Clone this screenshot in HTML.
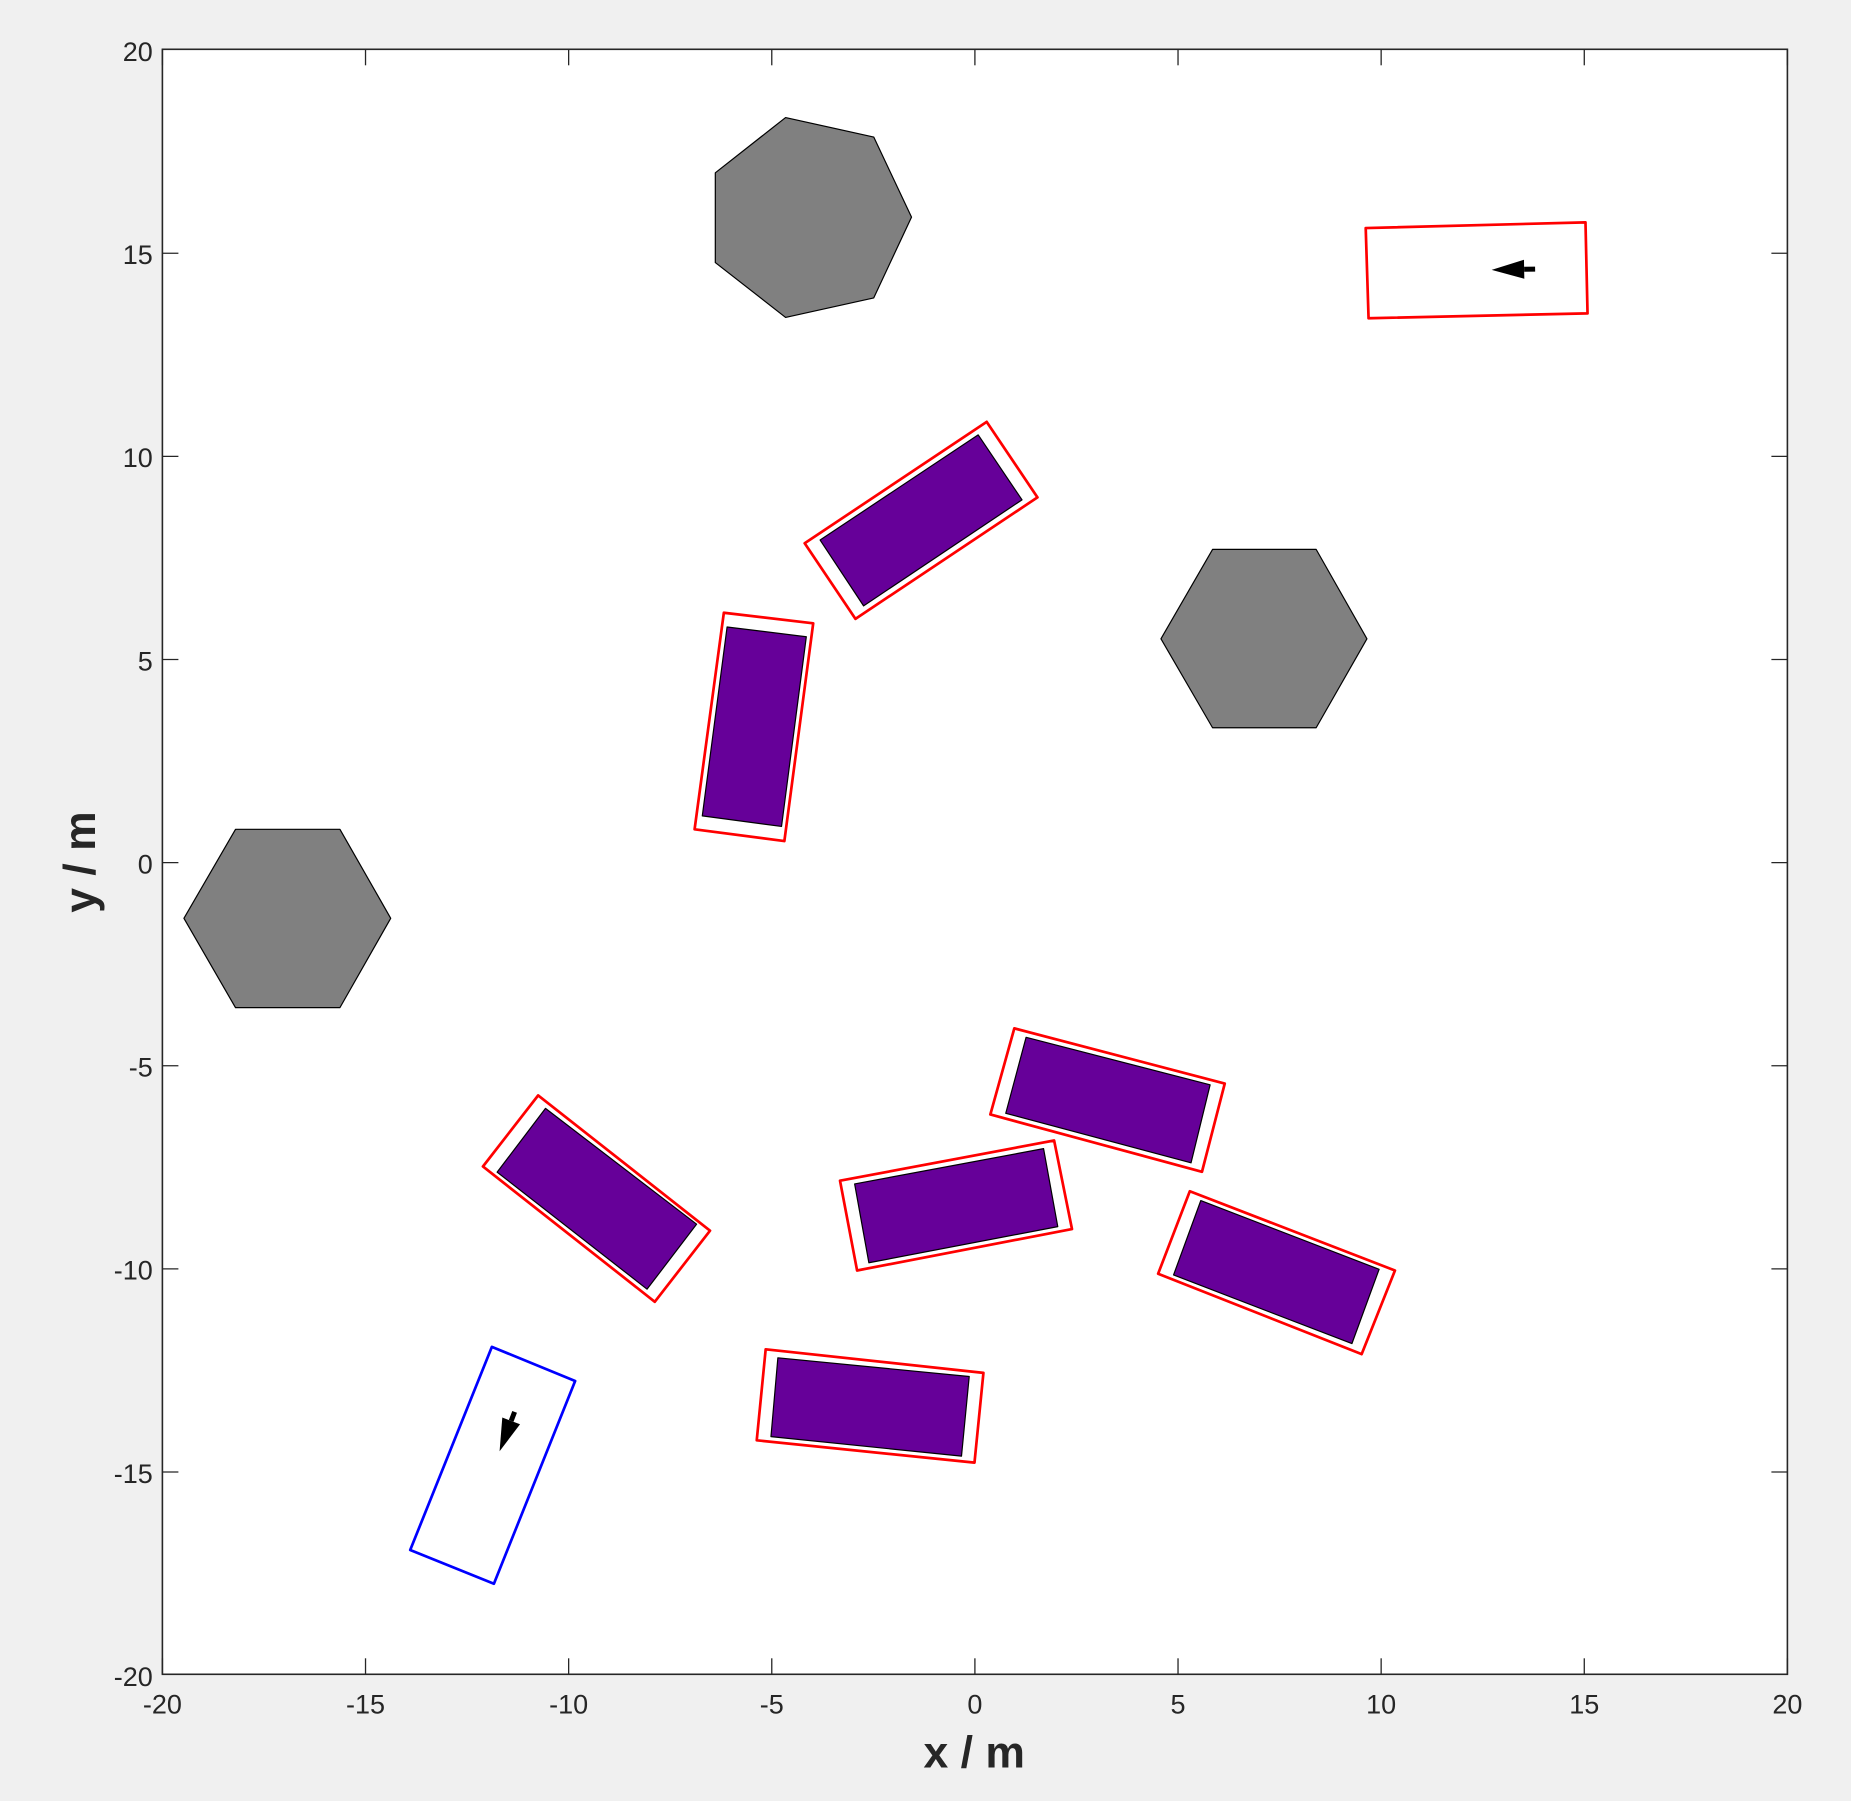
<!DOCTYPE html>
<html lang="en">
<head>
<meta charset="utf-8">
<title>Vehicle layout plot</title>
<style>
  html, body { margin: 0; padding: 0; background: #f0f0f0; }
  svg { display: block; font-family: "Liberation Sans", Arial, sans-serif; }
</style>
</head>
<body>
<svg id="chart" xmlns="http://www.w3.org/2000/svg" width="1851" height="1801" viewBox="0 0 1851 1801">
  <rect x="0" y="0" width="1851" height="1801" fill="#f0f0f0"/>
  <rect x="162.4" y="49.3" width="1625" height="1625" fill="#ffffff"/>
  <g id="obstacles"></g>
  <g id="outlines"></g>
  <g id="bodies"></g>
  <g id="arrows"></g>
  <g id="axes"></g>
  <text x="974.2" y="1767.3" font-size="44.5" font-weight="700" fill="#262626" text-anchor="middle">x / m</text>
  <text transform="translate(95 862) rotate(-90)" font-size="44.5" font-weight="700" fill="#262626" text-anchor="middle">y / m</text>
</svg>
<script>
// ---- data (all in metres) ----
const xTickLabels = [-20, -15, -10, -5, 0, 5, 10, 15, 20];
const yTickLabels = [-20, -15, -10, -5, 0, 5, 10, 15, 20];

const obstacleHeptagon = [[-4.66,18.32],[-2.49,17.84],[-1.56,15.87],[-2.49,13.88],[-4.66,13.40],[-6.39,14.75],[-6.39,16.96]];
const obstacleHexagonRight = [[4.58,5.49],[5.85,7.69],[8.40,7.69],[9.65,5.49],[8.40,3.30],[5.85,3.30]];
const obstacleHexagonLeft = [[-19.47,-1.39],[-18.20,0.80],[-15.63,0.80],[-14.38,-1.39],[-15.63,-3.59],[-18.20,-3.59]];

const outlineA = [[0.29,10.83],[1.54,8.97],[-2.94,5.98],[-4.19,7.84]];
const outlineB = [[-6.18,6.13],[-3.98,5.87],[-4.69,0.51],[-6.90,0.80]];
const outlineC = [[0.97,-4.10],[6.15,-5.46],[5.59,-7.63],[0.38,-6.22]];
const outlineD = [[1.95,-6.86],[2.39,-9.04],[-2.90,-10.06],[-3.32,-7.85]];
const outlineE = [[5.29,-8.11],[10.34,-10.06],[9.52,-12.12],[4.51,-10.14]];
const outlineF = [[-10.75,-5.75],[-6.52,-9.08],[-7.88,-10.83],[-12.11,-7.50]];
const outlineG = [[-5.15,-12.00],[0.21,-12.58],[-0.01,-14.79],[-5.37,-14.24]];
const outlineGoal = [[9.62,15.60],[15.03,15.74],[15.08,13.50],[9.69,13.38]];
const outlineEgo = [[-11.89,-11.94],[-9.84,-12.78],[-11.84,-17.77],[-13.90,-16.94]];

const bodyA = [[0.08,10.51],[1.16,8.91],[-2.74,6.30],[-3.81,7.92]];
const bodyB = [[-6.10,5.78],[-4.15,5.54],[-4.76,0.87],[-6.71,1.13]];
const bodyC = [[1.26,-4.32],[5.79,-5.49],[5.32,-7.41],[0.76,-6.19]];
const bodyD = [[1.69,-7.06],[2.04,-8.98],[-2.61,-9.87],[-2.96,-7.93]];
const bodyE = [[5.56,-8.34],[9.95,-10.03],[9.28,-11.86],[4.89,-10.17]];
const bodyF = [[-10.57,-6.07],[-6.85,-8.92],[-8.07,-10.52],[-11.76,-7.64]];
const bodyG = [[-4.85,-12.21],[-0.14,-12.67],[-0.33,-14.63],[-5.02,-14.15]];

const goalArrow = [[13.79,14.59],[12.72,14.57]];
const egoArrow = [[-11.33,-13.54],[-11.70,-14.51]];

// ---- axis functions ----
const plotLeft = 162.4, plotRight = 1787.4, plotTop = 49.3, plotBottom = 1674.3;
const xMin = -20, xMax = 20, yMin = -20, yMax = 20;
function xScale(v) { return plotLeft + (v - xMin) / (xMax - xMin) * (plotRight - plotLeft); }
function yScale(v) { return plotBottom - (v - yMin) / (yMax - yMin) * (plotBottom - plotTop); }

const SVG_NS = 'http://www.w3.org/2000/svg';
function make(tag, parent, attrs) {
  const el = document.createElementNS(SVG_NS, tag);
  for (const k in attrs) el.setAttribute(k, attrs[k]);
  parent.appendChild(el);
  return el;
}
function pointsAttr(pts) {
  return pts.map(p => xScale(p[0]).toFixed(2) + ',' + yScale(p[1]).toFixed(2)).join(' ');
}

// ---- obstacles ----
const obstaclesGroup = document.getElementById('obstacles');
[obstacleHeptagon, obstacleHexagonRight, obstacleHexagonLeft].forEach(pts => {
  const el = make('polygon', obstaclesGroup, { points: pointsAttr(pts), fill: '#808080', stroke: '#000000', 'stroke-width': 1.2, 'stroke-linejoin': 'round' });
  
  
});

// ---- vehicle outlines ----
const outlinesGroup = document.getElementById('outlines');
[outlineA, outlineB, outlineC, outlineD, outlineE, outlineF, outlineG, outlineGoal].forEach(pts => {
  const el = make('polygon', outlinesGroup, { points: pointsAttr(pts), fill: 'none', stroke: '#ff0000', 'stroke-width': 2.7, 'stroke-linejoin': 'round' });
  
  
});
const egoOutline = make('polygon', outlinesGroup, { points: pointsAttr(outlineEgo), fill: 'none', stroke: '#0000ff', 'stroke-width': 2.7, 'stroke-linejoin': 'round' });



// ---- vehicle bodies ----
const bodiesGroup = document.getElementById('bodies');
[bodyA, bodyB, bodyC, bodyD, bodyE, bodyF, bodyG].forEach(pts => {
  const el = make('polygon', bodiesGroup, { points: pointsAttr(pts), fill: '#660099', stroke: '#000000', 'stroke-width': 1.2, 'stroke-linejoin': 'round' });
  
  
});

// ---- heading arrows ----
const arrowsGroup = document.getElementById('arrows');
[goalArrow, egoArrow].forEach(seg => {
  const x0 = xScale(seg[0][0]), y0 = yScale(seg[0][1]);
  const x1 = xScale(seg[1][0]), y1 = yScale(seg[1][1]);
  const len = Math.hypot(x1 - x0, y1 - y0);
  const ux = (x1 - x0) / len, uy = (y1 - y0) / len;
  const headLen = 32.5, headHalf = 9.5;
  const bx = x1 - ux * headLen, by = y1 - uy * headLen;
  const shaft = make('line', arrowsGroup, { x1: x0, y1: y0, x2: bx, y2: by, stroke: '#000000', 'stroke-width': 5 });
  
  
  const head = make('polygon', arrowsGroup, {
    points: [x1 + ',' + y1, (bx - uy * headHalf) + ',' + (by + ux * headHalf), (bx + uy * headHalf) + ',' + (by - ux * headHalf)].join(' '),
    fill: '#000000'
  });
  
  
});

// ---- axes ----
const axesGroup = document.getElementById('axes');
const axisColor = '#262626';
const tickLen = 16;
const yTickNudge = 0.8;
const frame = make('rect', axesGroup, { x: plotLeft, y: plotTop, width: plotRight - plotLeft, height: plotBottom - plotTop, fill: 'none', stroke: axisColor, 'stroke-width': 1.6 });



xTickLabels.forEach(v => {
  const x = xScale(v);
  const t1 = make('line', axesGroup, { x1: x, y1: plotBottom, x2: x, y2: plotBottom - tickLen, stroke: axisColor, 'stroke-width': 1.3 });
  
  
  const t2 = make('line', axesGroup, { x1: x, y1: plotTop, x2: x, y2: plotTop + tickLen, stroke: axisColor, 'stroke-width': 1.3 });
  
  
  const label = make('text', axesGroup, { x: x, y: 1713.3, 'font-size': 27, fill: axisColor, 'text-anchor': 'middle' });
  label.textContent = String(v);
  
  
});

yTickLabels.forEach(v => {
  const y = yScale(v);
  const tickY = (v === yMin || v === yMax) ? y : y + yTickNudge;
  const t1 = make('line', axesGroup, { x1: plotLeft, y1: tickY, x2: plotLeft + tickLen, y2: tickY, stroke: axisColor, 'stroke-width': 1.3 });
  
  
  const t2 = make('line', axesGroup, { x1: plotRight, y1: tickY, x2: plotRight - tickLen, y2: tickY, stroke: axisColor, 'stroke-width': 1.3 });
  
  
  const label = make('text', axesGroup, { x: 152.8, y: y + 11.6, 'font-size': 27, fill: axisColor, 'text-anchor': 'end' });
  label.textContent = String(v);
  
  
});
</script>
</body>
</html>
